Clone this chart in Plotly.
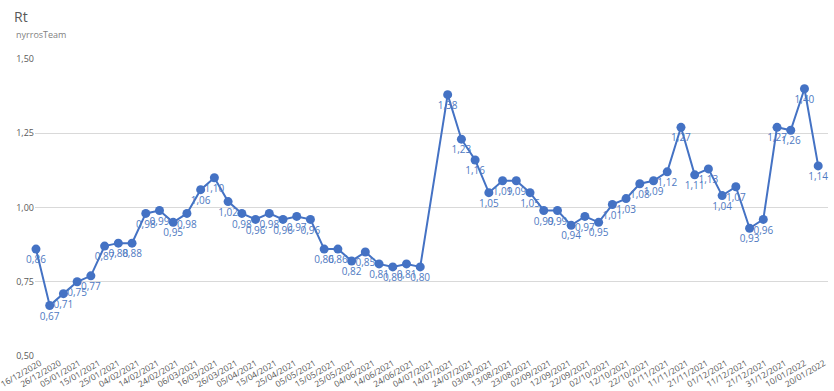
import plotly.graph_objects as go
import pandas as pd

start_date = "2020-12-16"
n_weeks = 58
rt_values = [0.86, 0.67, 0.71, 0.75, 0.77, 0.87, 0.88, 0.88, 0.98, 0.99,
             0.95, 0.98, 1.06, 1.10, 1.02, 0.98, 0.96, 0.98, 0.96, 0.97,
             0.96, 0.86, 0.86, 0.82, 0.85, 0.81, 0.80, 0.81, 0.80, None,
             1.38, 1.23, 1.16, 1.05, 1.09, 1.09, 1.05, 0.99, 0.99, 0.94,
             0.97, 0.95, 1.01, 1.03, 1.08, 1.09, 1.12, 1.27, 1.11, 1.13,
             1.04, 1.07, 0.93, 0.96, 1.27, 1.26, 1.40, 1.14]
y_ticks = [0.50, 0.75, 1.00, 1.25, 1.50]
title_text = "Rt"
subtitle_text = "nyrrosTeam"

dates = pd.date_range(start=start_date, periods=n_weeks, freq="7D")
labels = ["" if v is None else f"{v:.2f}".replace(".", ",") for v in rt_values]

blue = "#4472C4"
label_blue = "#4F7AC2"
gray = "#595959"
font_family = "Open Sans, Noto Sans, DejaVu Sans, sans-serif"

fig = go.Figure()
fig.add_trace(go.Scatter(
    x=dates, y=rt_values, mode="lines+markers+text",
    text=labels, textposition="bottom center",
    textfont=dict(color=label_blue, size=10, family=font_family),
    line=dict(color=blue, width=2),
    marker=dict(color=blue, size=9),
    connectgaps=True, cliponaxis=False, hoverinfo="x+y",
))

fig.update_layout(
    width=834, height=391,
    margin=dict(l=35, r=6, t=59, b=35, autoexpand=False),
    paper_bgcolor="white", plot_bgcolor="white",
    separators=",.",
    showlegend=False,
    font=dict(family=font_family, color=gray, size=9),
    title=dict(text=title_text, x=14/834, xanchor="left", xref="container",
               y=1 - 17/391, yanchor="middle", yref="container",
               font=dict(size=14, color=gray, family=font_family)),
    annotations=[dict(text=subtitle_text, xref="paper", yref="paper",
                      x=(14 - 35) / 793, y=(356 - 34) / 297,
                      xanchor="left", yanchor="middle", showarrow=False,
                      font=dict(size=9, color="#7f7f7f", family=font_family))],
    xaxis=dict(
        type="date", automargin=False, ticklabeloverflow="allow",
        range=["2020-12-15 12:00", "2022-01-24"],
        tick0=start_date, dtick=10 * 86400000,
        tickformat="%d/%m/%Y", tickangle=-30, ticklabelshift=4,
        showgrid=False, zeroline=False, showline=False,
        ticks="", tickfont=dict(size=8.5, color=gray),
    ),
    yaxis=dict(
        automargin=False,
        range=[0.5, 1.5], tickvals=y_ticks, tickformat=".2f",
        showgrid=True, gridcolor="#D9D9D9", gridwidth=1,
        zeroline=False, showline=False, ticks="",
        tickfont=dict(size=9, color=gray),
    ),
)

fig.write_html("out.html", config={"displayModeBar": False},
               post_script="document.body.style.margin='0';document.body.style.overflow='hidden';")
